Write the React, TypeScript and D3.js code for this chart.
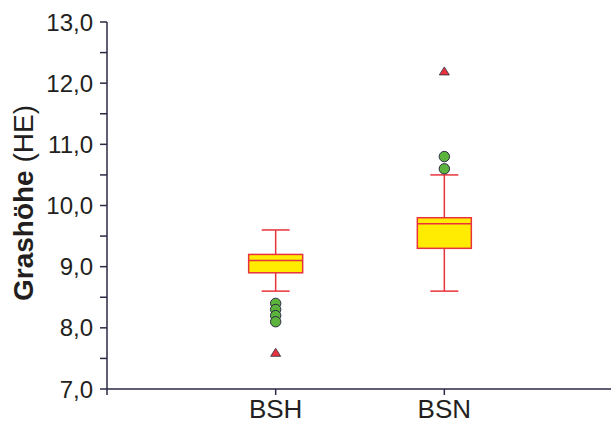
import React from "react";
import * as d3 from "d3";

const categories = ["BSH", "BSN"];
const whiskerLow = [8.6, 8.6];
const q1 = [8.9, 9.3];
const median = [9.1, 9.7];
const q3 = [9.2, 9.8];
const whiskerHigh = [9.6, 10.5];
const outliers = [
  [8.4, 8.3, 8.2, 8.1],
  [10.8, 10.6],
];
const extremes = [[7.6], [12.2]];
const yTicks = [7, 8, 9, 10, 11, 12, 13];
const yMinorTicks = [7.5, 8.5, 9.5, 10.5, 11.5, 12.5];

const W = 611;
const H = 425;
const axisColor = "#2b2944";
const red = "#e8333c";
const yellow = "#ffec00";
const green = "#5cb43c";
const font = "'Liberation Sans', Arial, Helvetica, sans-serif";

export default function App() {
  const y = d3.scaleLinear().domain([7, 13]).range([389, 22]);
  const x = d3.scaleLinear().domain([0, 3]).range([107, 613]);
  const boxW = 54;
  const capW = 28;
  const fmt = (v: number) => v.toFixed(1).replace(".", ",");
  const tri = (cx: number, cy: number) =>
    `M${cx - 5},${cy + 4}L${cx + 5},${cy + 4}L${cx},${cy - 4}Z`;

  return (
    <svg
      width={W}
      height={H}
      style={{ position: "absolute", left: 0, top: 0, background: "#fff" }}
    >
      {/* Y axis */}
      <line x1={x(0)} x2={x(0)} y1={y(13)} y2={y(7)} stroke={axisColor} strokeWidth={1.5} />
      {yTicks.map((t) => (
        <g key={"yt" + t}>
          <line x1={x(0) - 7} x2={x(0)} y1={y(t)} y2={y(t)} stroke={axisColor} strokeWidth={1.5} />
          <text
            x={93}
            y={y(t)}
            dy="0.36em"
            textAnchor="end"
            fontFamily={font}
            fontSize={24}
            fill="#231f20"
          >
            {fmt(t)}
          </text>
        </g>
      ))}
      {yMinorTicks.map((t) => (
        <line key={"ym" + t} x1={x(0) - 7} x2={x(0)} y1={y(t)} y2={y(t)} stroke={axisColor} strokeWidth={1.5} />
      ))}
      {/* X axis */}
      <line x1={x(0)} x2={W} y1={y(7)} y2={y(7)} stroke={axisColor} strokeWidth={1.5} />
      {[0, 1, 2, 3].map((i) => (
        <line key={"xt" + i} x1={x(i)} x2={x(i)} y1={y(7)} y2={y(7) + 6} stroke={axisColor} strokeWidth={1.5} />
      ))}
      {categories.map((c, i) => (
        <text
          key={"xl" + c}
          x={x(i + 1)}
          y={418}
          textAnchor="middle"
          fontFamily={font}
          fontSize={26}
          fill="#231f20"
        >
          {c}
        </text>
      ))}
      {/* Y label */}
      <text
        transform={`translate(33,${203}) rotate(-90)`}
        textAnchor="middle"
        fontFamily={font}
        fontSize={28}
        fill="#231f20"
      >
        <tspan fontWeight="bold">Grashöhe</tspan>
        <tspan> (HE)</tspan>
      </text>
      {/* Boxes */}
      {categories.map((c, i) => {
        const cx = x(i + 1);
        return (
          <g key={"box" + c}>
            <line x1={cx} x2={cx} y1={y(whiskerHigh[i])} y2={y(q3[i])} stroke={red} strokeWidth={1.5} />
            <line x1={cx} x2={cx} y1={y(q1[i])} y2={y(whiskerLow[i])} stroke={red} strokeWidth={1.5} />
            <line x1={cx - capW / 2} x2={cx + capW / 2} y1={y(whiskerHigh[i])} y2={y(whiskerHigh[i])} stroke={red} strokeWidth={1.5} />
            <line x1={cx - capW / 2} x2={cx + capW / 2} y1={y(whiskerLow[i])} y2={y(whiskerLow[i])} stroke={red} strokeWidth={1.5} />
            <rect
              x={cx - boxW / 2}
              y={y(q3[i])}
              width={boxW}
              height={y(q1[i]) - y(q3[i])}
              fill={yellow}
              stroke={red}
              strokeWidth={1.5}
            />
            <line x1={cx - boxW / 2} x2={cx + boxW / 2} y1={y(median[i])} y2={y(median[i])} stroke={red} strokeWidth={1.5} />
            {outliers[i].map((v, j) => (
              <circle key={"o" + j} cx={cx} cy={y(v)} r={5.2} fill={green} stroke={axisColor} strokeWidth={1} />
            ))}
            {extremes[i].map((v, j) => (
              <path key={"e" + j} d={tri(cx, y(v))} fill={red} stroke={axisColor} strokeWidth={0.8} />
            ))}
          </g>
        );
      })}
    </svg>
  );
}
